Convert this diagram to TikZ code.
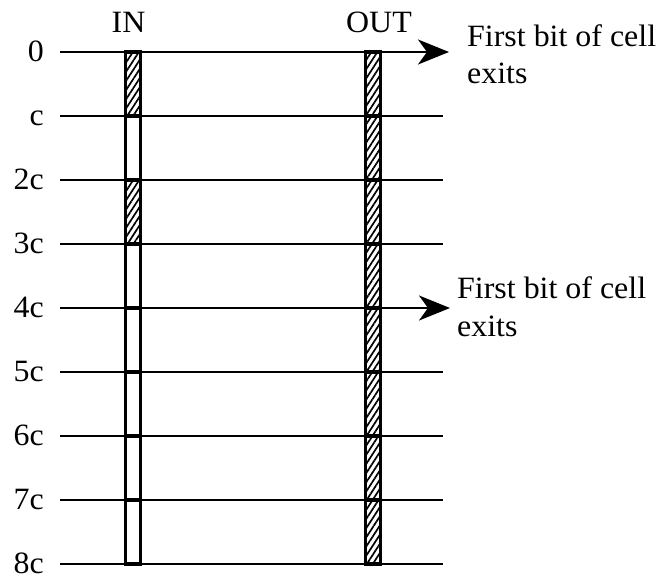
\documentclass[tikz,border=0pt]{standalone}
\usepackage{fontspec}
\setmainfont{Liberation Serif}
\usetikzlibrary{arrows.meta,patterns.meta}

% slightly widened text, as set in the figure
\newcommand{\wide}[1]{\scalebox{1.03}[1]{#1}}

\begin{document}
\begin{tikzpicture}[x=1pt,y=-1pt,
  gridline/.style={line width=1.3pt},
  cellbox/.style={draw,line width=3.4pt,minimum width=14.6pt,minimum height=64pt,
    inner sep=0pt,outer sep=0pt},
  hatched/.style={cellbox,pattern={Lines[angle=57,distance=5pt,line width=1.7pt]}},
  exitarrow/.style={line width=2.3pt,-{Stealth[length=31pt,width=25pt,inset=9pt]}},
  lbl/.style={font=\fontsize{31}{36}\selectfont,inner sep=0pt}]
\useasboundingbox (0,0) rectangle (660,578);

% time axis: labels and grid lines
\foreach \i/\t in {0/0,1/c,2/2c,3/3c,4/4c,5/5c,6/6c,7/7c,8/8c}{
  \pgfmathsetmacro\yy{52+64*\i}
  \node[lbl,anchor=base east] (t\i) at (44,\yy+9) {\wide{\t}};
  \coordinate (gl\i) at (60,\yy);
  \coordinate (gr\i) at (443,\yy);
  \draw[gridline] (gl\i) -- (gr\i);
}

% column headings
\node[lbl,anchor=base] (inlbl) at (128.5,33) {\wide{IN}};
\node[lbl,anchor=base] (outlbl) at (379,33) {\wide{OUT}};

% input column: slots 0 and 2 hold cell bits
\foreach \i in {0,...,7}{
  \pgfmathsetmacro\yy{84+64*\i}
  \ifnum\i=0
    \node[hatched] (in\i) at (133,\yy) {};
  \else\ifnum\i=2
    \node[hatched] (in\i) at (133,\yy) {};
  \else
    \node[cellbox] (in\i) at (133,\yy) {};
  \fi\fi
}

% output column: every slot busy
\foreach \i in {0,...,7}{
  \pgfmathsetmacro\yy{84+64*\i}
  \node[hatched] (out\i) at (373,\yy) {};
}

% exit arrows
\coordinate (exit0) at (449,52);
\coordinate (exit4) at (450,308);
\draw[exitarrow] (out0.north east) -- (exit0);
\draw[exitarrow] (out4.north east) -- (exit4);

% annotations
\node[lbl,anchor=base west] (note0a) at (467,47) {\wide{First bit of cell}};
\node[lbl,anchor=base west] (note0b) at (467,83) {\wide{exits}};
\node[lbl,anchor=base west] (note4a) at (457,298) {\wide{First bit of cell}};
\node[lbl,anchor=base west] (note4b) at (457,336) {\wide{exits}};
\end{tikzpicture}
\end{document}
